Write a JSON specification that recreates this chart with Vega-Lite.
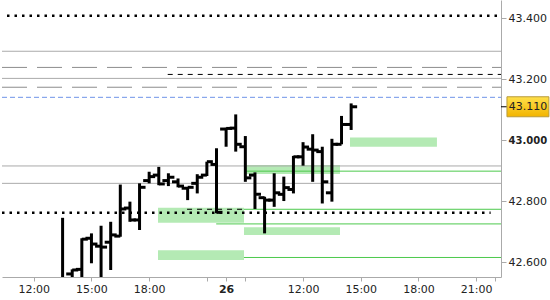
{
  "$schema": "https://vega.github.io/schema/vega-lite/v6.json",
  "width": 499,
  "height": 277,
  "padding": 0,
  "background": "white",
  "config": {"view": {"stroke": null}},
  "datasets": {
    "bars": [
      {"i": 3, "o": 42.542, "h": 42.746, "l": 42.526, "c": 42.545},
      {"i": 4, "o": 42.562, "h": 42.577, "l": 42.540, "c": 42.575},
      {"i": 5, "o": 42.577, "h": 42.679, "l": 42.535, "c": 42.676},
      {"i": 6, "o": 42.679, "h": 42.695, "l": 42.597, "c": 42.660},
      {"i": 7, "o": 42.653, "h": 42.720, "l": 42.532, "c": 42.650},
      {"i": 8, "o": 42.666, "h": 42.733, "l": 42.575, "c": 42.690},
      {"i": 9, "o": 42.686, "h": 42.855, "l": 42.684, "c": 42.775},
      {"i": 10, "o": 42.778, "h": 42.799, "l": 42.733, "c": 42.739},
      {"i": 11, "o": 42.739, "h": 42.859, "l": 42.706, "c": 42.846},
      {"i": 12, "o": 42.868, "h": 42.897, "l": 42.859, "c": 42.881},
      {"i": 13, "o": 42.886, "h": 42.913, "l": 42.853, "c": 42.857},
      {"i": 14, "o": 42.868, "h": 42.892, "l": 42.850, "c": 42.879},
      {"i": 15, "o": 42.864, "h": 42.875, "l": 42.846, "c": 42.850},
      {"i": 16, "o": 42.843, "h": 42.847, "l": 42.804, "c": 42.846},
      {"i": 17, "o": 42.859, "h": 42.889, "l": 42.826, "c": 42.879},
      {"i": 18, "o": 42.886, "h": 42.930, "l": 42.883, "c": 42.930},
      {"i": 19, "o": 42.921, "h": 42.974, "l": 42.761, "c": 42.764},
      {"i": 20, "o": 43.037, "h": 43.041, "l": 42.979, "c": 43.039},
      {"i": 21, "o": 43.040, "h": 43.085, "l": 42.963, "c": 42.987},
      {"i": 22, "o": 42.979, "h": 43.014, "l": 42.864, "c": 42.877},
      {"i": 23, "o": 42.886, "h": 42.895, "l": 42.775, "c": 42.823},
      {"i": 24, "o": 42.812, "h": 42.815, "l": 42.695, "c": 42.804},
      {"i": 25, "o": 42.804, "h": 42.892, "l": 42.782, "c": 42.828},
      {"i": 26, "o": 42.823, "h": 42.881, "l": 42.801, "c": 42.845},
      {"i": 27, "o": 42.839, "h": 42.949, "l": 42.826, "c": 42.946},
      {"i": 28, "o": 42.946, "h": 42.994, "l": 42.917, "c": 42.978},
      {"i": 29, "o": 42.971, "h": 43.020, "l": 42.864, "c": 42.968},
      {"i": 30, "o": 42.963, "h": 42.979, "l": 42.793, "c": 42.864},
      {"i": 31, "o": 42.828, "h": 43.005, "l": 42.799, "c": 42.987},
      {"i": 32, "o": 42.987, "h": 43.080, "l": 42.987, "c": 43.052},
      {"i": 33, "o": 43.052, "h": 43.121, "l": 43.034, "c": 43.110}
    ],
    "levels": [
      {"k": "dot", "p": 43.408, "s": -2.78, "e": 48.37},
      {"k": "dot", "p": 42.763, "s": -3.3, "e": 47.5},
      {"k": "gray", "p": 43.292, "s": -3.3, "e": 48.58},
      {"k": "gray", "p": 43.203, "s": -3.3, "e": 48.58},
      {"k": "gray", "p": 42.916, "s": -3.3, "e": 48.58},
      {"k": "gray", "p": 42.859, "s": -3.3, "e": 48.58},
      {"k": "graydash", "p": 43.239, "s": -3.3, "e": 48.58},
      {"k": "graydash", "p": 43.174, "s": -3.3, "e": 48.58},
      {"k": "blackdash", "p": 43.216, "s": 13.93, "e": 48.58},
      {"k": "blackdash", "p": 42.774, "s": 15.94, "e": 21.86},
      {"k": "blue", "p": 43.141, "s": -3.3, "e": 48.58},
      {"k": "green", "p": 42.899, "s": 21.86, "e": 48.58},
      {"k": "green", "p": 42.774, "s": 21.86, "e": 48.58},
      {"k": "green", "p": 42.726, "s": 18.97, "e": 48.58},
      {"k": "green", "p": 42.616, "s": 21.86, "e": 48.58}
    ],
    "zones": [
      {"s": 12.92, "e": 21.86, "p1": 42.730, "p2": 42.779},
      {"s": 12.92, "e": 21.86, "p1": 42.608, "p2": 42.640},
      {"s": 21.86, "e": 31.84, "p1": 42.890, "p2": 42.919},
      {"s": 21.86, "e": 31.84, "p1": 42.690, "p2": 42.715},
      {"s": 32.88, "e": 41.92, "p1": 42.979, "p2": 43.009}
    ],
    "last": [{"p": 43.110}]
  },
  "layer": [
    {
      "data": {"name": "zones"},
      "mark": {"type": "rect", "fill": "#b4eab4", "clip": true},
      "encoding": {
        "x": {"field": "s", "type": "quantitative", "scale": {"domain": [-3.3, 48.58], "nice": false, "zero": false},
          "axis": {"values": [0, 6, 12, 18, 20, 22, 28, 34, 40, 46, 48], "title": null, "grid": false,
            "labelExpr": "datum.value == 0 || datum.value == 28 ? '12:00' : datum.value == 6 || datum.value == 34 ? '15:00' : datum.value == 12 || datum.value == 40 ? '18:00' : datum.value == 46 ? '21:00' : datum.value == 20 ? '26' : ''",
            "labelFontWeight": {"condition": {"test": "datum.value == 20", "value": "bold"}, "value": "normal"},
            "labelFont": "DejaVu Sans", "labelFontSize": 11, "labelColor": "#222222",
            "labelOverlap": false, "labelFlush": false, "tickSize": 4, "labelPadding": 2,
            "domainColor": "#aaaaaa", "tickColor": "#aaaaaa"}},
        "x2": {"field": "e"},
        "y": {"field": "p1", "type": "quantitative", "scale": {"domain": [42.552, 43.46], "nice": false, "zero": false},
          "axis": {"orient": "right", "values": [42.6, 42.8, 43.0, 43.2, 43.4], "format": ".3f", "title": null, "grid": false,
            "labelFontWeight": {"condition": {"test": "datum.value == 43", "value": "bold"}, "value": "normal"},
            "labelFontSize": {"condition": {"test": "datum.value == 43", "value": 10}, "value": 11},
            "labelFont": "DejaVu Sans", "labelColor": "#222222",
            "tickSize": 5, "labelPadding": 2, "domainColor": "#aaaaaa", "tickColor": "#aaaaaa", "labelOverlap": false, "labelFlush": false}},
        "y2": {"field": "p2"}
      }
    },
    {
      "data": {"name": "levels"},
      "transform": [{"filter": "datum.k == 'gray'"}],
      "mark": {"type": "rule", "color": "#aaaaaa", "strokeWidth": 1},
      "encoding": {"x": {"field": "s", "type": "quantitative"}, "x2": {"field": "e"}, "y": {"field": "p", "type": "quantitative"}}
    },
    {
      "data": {"name": "levels"},
      "transform": [{"filter": "datum.k == 'graydash'"}],
      "mark": {"type": "rule", "color": "#8c8c8c", "strokeWidth": 1, "strokeDash": [25, 10]},
      "encoding": {"x": {"field": "s", "type": "quantitative"}, "x2": {"field": "e"}, "y": {"field": "p", "type": "quantitative"}}
    },
    {
      "data": {"name": "levels"},
      "transform": [{"filter": "datum.k == 'blue'"}],
      "mark": {"type": "rule", "color": "#6f94e8", "strokeWidth": 1, "strokeDash": [5, 3]},
      "encoding": {"x": {"field": "s", "type": "quantitative"}, "x2": {"field": "e"}, "y": {"field": "p", "type": "quantitative"}}
    },
    {
      "data": {"name": "levels"},
      "transform": [{"filter": "datum.k == 'green'"}],
      "mark": {"type": "rule", "color": "#4cc94c", "strokeWidth": 1},
      "encoding": {"x": {"field": "s", "type": "quantitative"}, "x2": {"field": "e"}, "y": {"field": "p", "type": "quantitative"}}
    },
    {
      "data": {"name": "levels"},
      "transform": [{"filter": "datum.k == 'blackdash'"}],
      "mark": {"type": "rule", "color": "#000000", "strokeWidth": 1, "strokeDash": [5, 5]},
      "encoding": {"x": {"field": "s", "type": "quantitative"}, "x2": {"field": "e"}, "y": {"field": "p", "type": "quantitative"}}
    },
    {
      "data": {"name": "levels"},
      "transform": [{"filter": "datum.k == 'dot'"}],
      "mark": {"type": "rule", "color": "#000000", "strokeWidth": 2.5, "strokeDash": [2.5, 5]},
      "encoding": {"x": {"field": "s", "type": "quantitative"}, "x2": {"field": "e"}, "y": {"field": "p", "type": "quantitative"}}
    },
    {
      "data": {"name": "bars"},
      "mark": {"type": "rule", "color": "#000000", "strokeWidth": 3, "clip": true},
      "encoding": {"x": {"field": "i", "type": "quantitative"}, "y": {"field": "l", "type": "quantitative"}, "y2": {"field": "h"}}
    },
    {
      "data": {"name": "bars"},
      "mark": {"type": "tick", "orient": "horizontal", "color": "#000000", "opacity": 1, "size": 6, "thickness": 3, "xOffset": -3, "clip": true},
      "encoding": {"x": {"field": "i", "type": "quantitative"}, "y": {"field": "o", "type": "quantitative"}}
    },
    {
      "data": {"name": "bars"},
      "mark": {"type": "tick", "orient": "horizontal", "color": "#000000", "opacity": 1, "size": 6, "thickness": 3, "xOffset": 3, "clip": true},
      "encoding": {"x": {"field": "i", "type": "quantitative"}, "y": {"field": "c", "type": "quantitative"}}
    },
    {
      "data": {"name": "last"},
      "mark": {"type": "rule", "color": "#000000", "strokeWidth": 1},
      "encoding": {"x": {"datum": 48.58, "type": "quantitative"}, "x2": {"datum": 49.2}, "y": {"field": "p", "type": "quantitative"}}
    },
    {
      "data": {"name": "last"},
      "mark": {"type": "rect", "yOffset": -10, "y2Offset": 10, "stroke": "#b89a3a", "strokeWidth": 1,
        "fill": {"gradient": "linear", "x1": 0, "y1": 0, "x2": 0, "y2": 1, "stops": [{"offset": 0, "color": "#ffe04a"}, {"offset": 1, "color": "#f2b400"}]}},
      "encoding": {"x": {"datum": 49.2, "type": "quantitative"}, "x2": {"datum": 53.56}, "y": {"field": "p", "type": "quantitative"}, "y2": {"field": "p"}}
    },
    {
      "data": {"name": "last"},
      "mark": {"type": "text", "font": "DejaVu Sans", "fontSize": 11, "color": "#222222", "align": "center", "baseline": "middle"},
      "encoding": {"x": {"datum": 51.38, "type": "quantitative"}, "y": {"field": "p", "type": "quantitative"}, "text": {"field": "p", "type": "quantitative", "format": ".3f"}}
    }
  ]
}
